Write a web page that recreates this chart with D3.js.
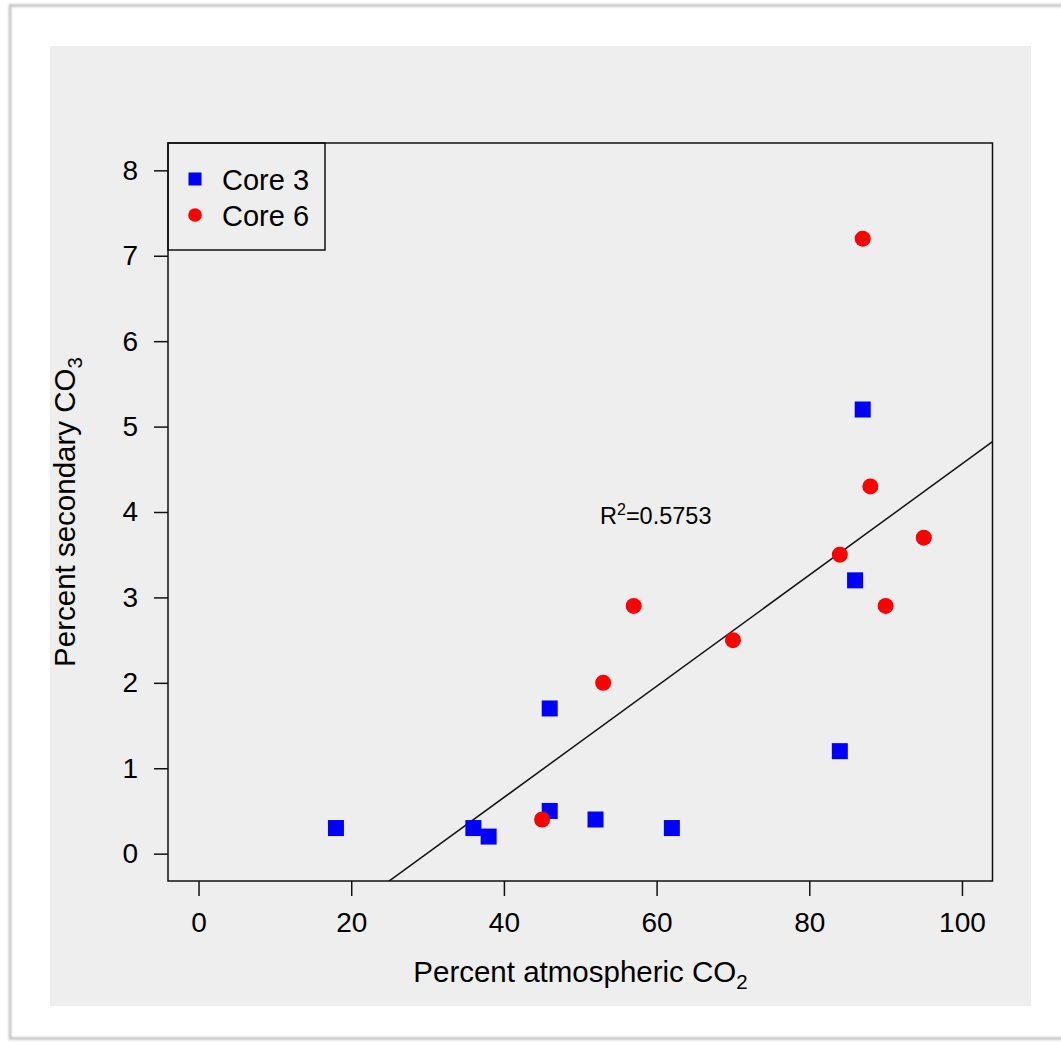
<!DOCTYPE html>
<html>
<head>
<meta charset="utf-8">
<script src="https://cdn.jsdelivr.net/npm/d3@7"></script>
<style>
  html, body { margin: 0; padding: 0; background: #ffffff; }
  svg { display: block; }
  text { font-family: "Liberation Sans", Arial, Helvetica, sans-serif; fill: #000; }
</style>
</head>
<body>
<svg id="chart" width="1061" height="1042"></svg>
<script>
// Core 3 samples: percent atmospheric CO2 vs percent secondary CO3
const core3X = [18, 36, 38, 46, 46, 52, 62, 84, 86, 87];
const core3Y = [0.3, 0.3, 0.2, 0.5, 1.7, 0.4, 0.3, 1.2, 3.2, 5.2];
// Core 6 samples
const core6X = [45, 53, 57, 70, 84, 87, 88, 90, 95];
const core6Y = [0.4, 2.0, 2.9, 2.5, 3.5, 7.2, 4.3, 2.9, 3.7];

const xTicks = [0, 20, 40, 60, 80, 100];
const yTicks = [0, 1, 2, 3, 4, 5, 6, 7, 8];
const seriesNames = ["Core 3", "Core 6"];
const seriesColors = ["#0000ff", "#ff0000"];
const rSquaredLabel = "0.5753";

const svg = d3.select("#chart");

// soft shadow for the page frame
const defs = svg.append("defs");
defs.append("filter").attr("id", "soft")
  .attr("x", "-5%").attr("y", "-5%").attr("width", "110%").attr("height", "110%")
  .append("feGaussianBlur").attr("stdDeviation", 1.2);
defs.append("clipPath").attr("id", "plotClip")
  .append("rect").attr("x", 168).attr("y", 143).attr("width", 824.5).attr("height", 738);

svg.append("rect").attr("width", 1061).attr("height", 1042).attr("fill", "#ffffff");
svg.append("rect")
  .attr("x", 10).attr("y", 5.5).attr("width", 1100).attr("height", 1033)
  .attr("fill", "none").attr("stroke", "#bdbdbd").attr("stroke-width", 2.5)
  .attr("filter", "url(#soft)");

// grey panel
svg.append("rect")
  .attr("x", 50).attr("y", 46).attr("width", 981).attr("height", 960)
  .attr("fill", "#eeeeee");

const x = d3.scaleLinear().domain([-4, 104]).range([168, 992.5]);
const y = d3.scaleLinear().domain([-0.32, 8.32]).range([881, 143]);

// plot box
svg.append("rect")
  .attr("x", x(-4)).attr("y", y(8.32))
  .attr("width", x(104) - x(-4)).attr("height", y(-0.32) - y(8.32))
  .attr("fill", "none").attr("stroke", "#111").attr("stroke-width", 1.5);

// axes
const xAxis = svg.append("g")
  .attr("transform", `translate(0,${y(-0.32)})`)
  .call(d3.axisBottom(x).tickValues(xTicks).tickSize(15).tickPadding(16).tickFormat(d3.format("d")));
const yAxis = svg.append("g")
  .attr("transform", `translate(${x(-4)},0)`)
  .call(d3.axisLeft(y).tickValues(yTicks).tickSize(14).tickPadding(16).tickFormat(d3.format("d")));
[xAxis, yAxis].forEach(g => {
  g.select(".domain").remove();
  g.selectAll(".tick line").attr("stroke", "#111").attr("stroke-width", 1.5);
  g.selectAll(".tick text")
    .style("font-family", '"Liberation Sans", Arial, sans-serif')
    .style("font-size", "28px").attr("fill", "#000");
});

// least-squares fit through all samples
const allX = core3X.concat(core6X);
const allY = core3Y.concat(core6Y);
const mx = d3.mean(allX), my = d3.mean(allY);
let sxy = 0, sxx = 0;
allX.forEach((v, i) => { sxy += (v - mx) * (allY[i] - my); sxx += (v - mx) * (v - mx); });
const slope = sxy / sxx;
const intercept = my - slope * mx;
const fitX = x.domain();
svg.append("g").attr("clip-path", "url(#plotClip)")
  .append("line")
  .attr("x1", x(fitX[0])).attr("y1", y(intercept + slope * fitX[0]))
  .attr("x2", x(fitX[1])).attr("y2", y(intercept + slope * fitX[1]))
  .attr("stroke", "#111").attr("stroke-width", 1.5);

// points
const sq = 16;
svg.append("g").selectAll("rect")
  .data(d3.zip(core3X, core3Y)).join("rect")
  .attr("x", d => x(d[0]) - sq / 2).attr("y", d => y(d[1]) - sq / 2)
  .attr("width", sq).attr("height", sq).attr("fill", seriesColors[0]);
svg.append("g").selectAll("circle")
  .data(d3.zip(core6X, core6Y)).join("circle")
  .attr("cx", d => x(d[0])).attr("cy", d => y(d[1])).attr("r", 8)
  .attr("fill", seriesColors[1]);

// R squared annotation
const rt = svg.append("text").attr("x", 600).attr("y", 524).style("font-size", "23.5px");
rt.append("tspan").text("R");
rt.append("tspan").attr("dy", -9).style("font-size", "16px").text("2");
rt.append("tspan").attr("dy", 9).text("=" + rSquaredLabel);

// axis titles
const xt = svg.append("text").attr("x", 580.5).attr("y", 982)
  .attr("text-anchor", "middle").style("font-size", "29.5px");
xt.append("tspan").text("Percent atmospheric CO");
xt.append("tspan").attr("dy", 7).style("font-size", "20.5px").text("2");

const yt = svg.append("text")
  .attr("transform", "translate(75,512) rotate(-90)")
  .attr("text-anchor", "middle").style("font-size", "29.5px");
yt.append("tspan").text("Percent secondary CO");
yt.append("tspan").attr("dy", 7).style("font-size", "20.5px").text("3");

// legend
const lg = svg.append("g");
lg.append("rect").attr("x", x(-4)).attr("y", y(8.32))
  .attr("width", 157).attr("height", 107)
  .attr("fill", "none").attr("stroke", "#111").attr("stroke-width", 1.5);
const legendRows = [179, 215];
lg.append("rect").attr("x", 195 - 6.5).attr("y", legendRows[0] - 6.5)
  .attr("width", 13).attr("height", 13).attr("fill", seriesColors[0]);
lg.append("circle").attr("cx", 195).attr("cy", legendRows[1]).attr("r", 6.8)
  .attr("fill", seriesColors[1]);
seriesNames.forEach((name, i) => {
  lg.append("text").attr("x", 222).attr("y", legendRows[i] + 10.5)
    .style("font-size", "29px").attr("fill", seriesColors[i]).text(name);
});
</script>
</body>
</html>
